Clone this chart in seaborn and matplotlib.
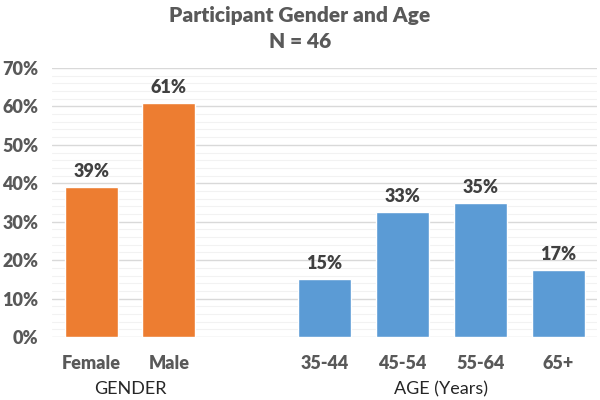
import matplotlib
matplotlib.use("Agg")
import matplotlib.pyplot as plt
from matplotlib.ticker import MultipleLocator, PercentFormatter
import pandas as pd
import seaborn as sns

# data
gender_labels = ["Female", "Male"]
gender_values = [39.1, 60.9]
age_labels = ["35-44", "45-54", "55-64", "65+"]
age_values = [15.2, 32.6, 34.8, 17.4]
group_names = ["GENDER", "AGE (Years)"]

df = pd.DataFrame({
    "cat": gender_labels + age_labels,
    "val": gender_values + age_values,
    "group": [group_names[0]] * len(gender_labels) + [group_names[1]] * len(age_labels),
})
order = gender_labels + [" "] + age_labels

sns.set_theme(style="white")
plt.rcParams["font.family"] = ["Lato", "DejaVu Sans"]

grey = "#595959"
fig = plt.figure(figsize=(6, 4), dpi=100)
ax = fig.add_axes([0.087, 0.1575, 0.908, 0.6725])

sns.barplot(data=df, x="cat", y="val", hue="group", order=order,
            palette={group_names[0]: "#ED7D31", group_names[1]: "#5B9BD5"},
            saturation=1, dodge=False, width=0.68, legend=False, ax=ax, zorder=3)

ax.set_ylim(0, 70)
ax.set_xlim(-0.5, len(order) - 0.5)
ax.yaxis.set_major_locator(MultipleLocator(10))
ax.yaxis.set_minor_locator(MultipleLocator(2))
ax.yaxis.set_major_formatter(PercentFormatter(decimals=0))
ax.grid(axis="y", which="major", color="#D9D9D9", lw=1, zorder=0)
ax.grid(axis="y", which="minor", color="#F2F2F2", lw=0.8, zorder=0)
ax.set_axisbelow(True)
for s in ax.spines.values():
    s.set_visible(False)
ax.tick_params(axis="both", which="both", length=0, labelsize=13, labelcolor=grey)
ax.tick_params(axis="y", pad=10)
ax.tick_params(axis="x", pad=13)
ax.set_xlabel("")
ax.set_ylabel("")

for c in ax.containers:
    ax.bar_label(c, labels=[f"{v:.0f}%" for v in c.datavalues], padding=5,
                 fontsize=13, fontweight="heavy", color="#404040")

# group labels under the ticks
gpos = [0.5, (len(order) - 1 + len(gender_labels) + 1) / 2]
for name, xp in zip(group_names, gpos):
    ax.text(xp, -0.195, name, transform=ax.get_xaxis_transform(),
            ha="center", va="center", fontsize=13, color="#262626")

fig.text(0.5, 0.962, "Participant Gender and Age", ha="center", va="center",
         fontsize=15, fontweight="heavy", color=grey)
fig.text(0.5, 0.897, "N = 46", ha="center", va="center",
         fontsize=15, fontweight="heavy", color=grey)

fig.canvas.draw()
plt.setp(ax.get_xticklabels() + ax.get_yticklabels(), fontweight="heavy")

fig.savefig("out.png", dpi=100)
